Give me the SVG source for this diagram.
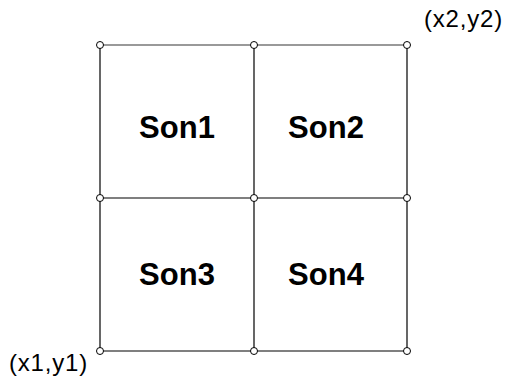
<svg xmlns="http://www.w3.org/2000/svg" width="506" height="377" viewBox="0 0 506 377">
<style>
.ln{stroke:#000;stroke-width:1.2;fill:none}
.gl{stroke:#777;stroke-width:1.5;fill:none}
.pt{fill:#fff;stroke:#000;stroke-width:1}
.lbl{font-family:"Liberation Sans",Arial,sans-serif;font-weight:bold;font-size:31px;fill:#000;text-anchor:middle}
.co{font-family:"Liberation Sans",Arial,sans-serif;font-size:24px;letter-spacing:0.8px;fill:#000}
</style>
<rect width="506" height="377" fill="#fff"/>
<g id="connectors">
<line class="gl" x1="100" y1="45" x2="407" y2="45"/>
<line class="ln" x1="100" y1="198" x2="407" y2="198"/>
<line class="ln" x1="100" y1="351" x2="407" y2="351"/>
<line class="ln" x1="100" y1="45" x2="100" y2="351"/>
<line class="ln" x1="254" y1="45" x2="254" y2="351"/>
<line class="ln" x1="407" y1="45" x2="407" y2="351"/>
</g>
<g id="points">
<circle class="pt" cx="100" cy="45" r="3.5"/>
<circle class="pt" cx="254" cy="45" r="3.5"/>
<circle class="pt" cx="407" cy="45" r="3.5"/>
<circle class="pt" cx="100" cy="198" r="3.5"/>
<circle class="pt" cx="254" cy="198" r="3.5"/>
<circle class="pt" cx="407" cy="198" r="3.5"/>
<circle class="pt" cx="100" cy="351" r="3.5"/>
<circle class="pt" cx="254" cy="351" r="3.5"/>
<circle class="pt" cx="407" cy="351" r="3.5"/>
</g>
<g id="son1"><text class="lbl" x="177" y="138">Son1</text></g>
<g id="son2"><text class="lbl" x="326" y="138">Son2</text></g>
<g id="son3"><text class="lbl" x="177" y="285">Son3</text></g>
<g id="son4"><text class="lbl" x="326" y="285">Son4</text></g>
<g id="p2"><text class="co" x="424" y="27">(x2,y2)</text></g>
<g id="p1"><text class="co" x="9" y="371">(x1,y1)</text></g>
</svg>
